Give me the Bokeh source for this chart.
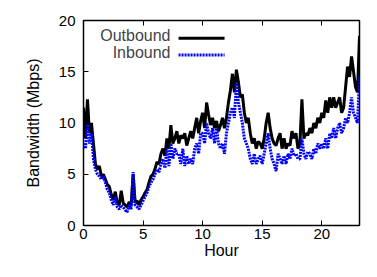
from bokeh.plotting import figure
from bokeh.models import Range1d, FixedTicker, LinearAxis, Label, ColumnDataSource
from bokeh.embed import file_html
from bokeh.resources import INLINE

# 10-minute samples starting at hour 0
outbound = [
    11.5, 8.5, 12.3, 9.0, 10.0, 8.0,
    6.0, 5.5, 5.8, 4.8, 5.0, 4.5,
    4.0, 3.8, 3.0, 2.5, 3.3, 2.2,
    2.0, 3.4, 2.2, 2.0, 1.8, 2.3,
    2.0, 5.0, 2.2, 2.4, 2.0, 2.5,
    2.8, 3.2, 3.5, 4.2, 4.8, 5.0,
    5.5, 6.2, 6.0, 7.0, 7.5, 6.8,
    8.5, 7.5, 9.8, 8.0, 8.5, 9.2,
    8.0, 8.8, 8.5, 9.0, 7.8, 8.5,
    9.2, 8.5, 9.5, 10.5, 9.0, 10.2,
    11.0, 9.5, 12.0, 10.8, 9.8, 10.5,
    9.5, 10.2, 9.2, 9.8, 10.5, 9.5,
    10.5, 12.0, 13.2, 14.8, 13.0, 15.2,
    14.0, 12.5, 12.8, 11.0, 10.0, 10.5,
    9.0, 8.0, 8.5, 7.5, 8.2, 8.0,
    7.5, 8.5, 10.0, 11.0, 9.5, 8.5,
    8.0, 7.8, 8.5, 9.0, 7.5, 8.5,
    7.5, 8.0, 7.8, 9.2, 8.5, 9.0,
    7.5, 8.0, 12.3, 8.5, 9.0, 8.8,
    9.5, 9.0, 10.0, 9.5, 10.5, 10.0,
    11.0, 10.5, 12.2, 11.0, 12.5, 11.5,
    12.5, 11.5, 12.0, 12.5, 11.0, 11.5,
    13.5, 15.5, 14.5, 16.5, 15.0, 13.5,
    13.0, 18.5,
]
inbound = [
    8.0, 7.5, 10.0, 8.0, 9.0, 6.5,
    5.5, 5.0, 4.8, 4.5, 4.8, 4.2,
    3.5, 3.2, 2.5, 2.0, 2.8, 1.8,
    1.6, 2.0, 1.8, 1.5, 1.3, 2.0,
    1.6, 5.2, 2.0, 1.8, 1.6, 2.0,
    2.4, 2.8, 3.2, 3.8, 4.2, 4.5,
    5.0, 5.5, 5.2, 6.0, 6.5, 5.6,
    7.5, 5.8, 8.0, 6.5, 7.5, 7.0,
    7.0, 6.0, 7.5, 5.8, 6.8, 6.0,
    6.5, 6.0, 7.5, 8.0, 7.0, 9.0,
    9.0, 8.0, 10.0, 9.0, 8.5, 9.5,
    8.0, 9.5, 8.0, 7.5, 8.0, 7.0,
    9.0, 10.0, 11.0, 11.5, 10.5, 14.0,
    12.0, 11.0, 10.0, 8.5, 8.0, 7.5,
    6.5, 6.0, 7.0, 6.0, 6.5, 6.8,
    6.0, 7.0, 8.0, 9.0, 7.5, 6.5,
    6.0, 5.3, 7.0, 6.5, 6.0, 6.8,
    6.0, 7.0, 6.5, 7.5, 6.8, 7.0,
    6.5, 6.5, 8.5, 7.0, 6.5, 7.2,
    7.0, 6.5, 7.5, 7.0, 8.0, 7.5,
    8.0, 7.5, 8.5, 7.5, 9.0, 8.5,
    9.5, 8.5, 9.5, 10.0, 9.0, 9.5,
    10.5, 10.0, 11.0, 12.5, 11.0, 10.5,
    10.0, 14.5,
]
hours = [i / 6.0 for i in range(len(outbound))]
x_ticks = [0, 5, 10, 15, 20]
y_ticks = [0, 5, 10, 15, 20]

FONT = "Liberation Sans"

p = figure(width=361, height=261, output_backend="svg", toolbar_location=None,
           x_range=Range1d(0, hours[-1]), y_range=Range1d(0, 20),
           min_border_left=83, min_border_right=2, min_border_top=20, min_border_bottom=33)
p.grid.visible = False
p.outline_line_color = "black"
p.outline_line_width = 1.5
p.background_fill_color = "white"
p.border_fill_color = "white"

src = ColumnDataSource(dict(h=hours, o=outbound, i=inbound))
p.line("h", "o", source=src, line_color="black", line_width=3)
p.line("h", "i", source=src, line_color="#0000ff", line_width=3, line_dash="2 1")

for ax in (p.xaxis[0], p.yaxis[0]):
    ax.major_tick_in = 5
    ax.major_tick_out = 0
    ax.minor_tick_line_color = None
    ax.axis_line_color = None
    ax.major_label_text_font = FONT
    ax.major_label_text_font_size = "15px"
    ax.major_label_text_color = "black"
    ax.axis_label_text_font = FONT
    ax.axis_label_text_font_size = "16px"
    ax.axis_label_text_font_style = "normal"
    ax.axis_label_text_color = "black"
    ax.major_tick_line_color = "black"

p.xaxis[0].ticker = FixedTicker(ticks=x_ticks)
p.yaxis[0].ticker = FixedTicker(ticks=y_ticks)
p.xaxis[0].axis_label = "Hour"
p.yaxis[0].axis_label = "Bandwidth (Mbps)"
p.xaxis[0].major_label_standoff = 3
p.xaxis[0].axis_label_standoff = 0
p.yaxis[0].major_label_standoff = 8
p.yaxis[0].axis_label_standoff = 14

top = LinearAxis(ticker=FixedTicker(ticks=x_ticks), major_label_text_font_size="0px",
                 major_tick_in=5, major_tick_out=0, minor_tick_line_color=None,
                 axis_line_color=None)
p.add_layout(top, "above")

# key (gnuplot style: label then sample)
p.add_layout(Label(x=87, y=190, x_units="screen", y_units="screen",
                   text="Outbound", text_font=FONT, text_font_size="16px",
                   text_align="right", text_baseline="middle"))
p.add_layout(Label(x=87, y=173, x_units="screen", y_units="screen",
                   text="Inbound", text_font=FONT, text_font_size="16px",
                   text_align="right", text_baseline="middle"))
key_x = [7.98, 11.84]
p.line(key_x, [18.27, 18.27], line_color="black", line_width=3)
p.line(key_x, [16.63, 16.63], line_color="#0000ff", line_width=3, line_dash="2 1")

open("out.html", "w").write(file_html(p, INLINE))
